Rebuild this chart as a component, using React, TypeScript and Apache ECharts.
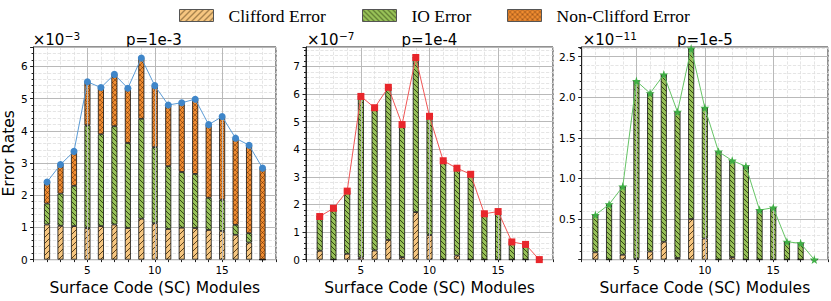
import React, { useEffect, useRef } from "react";
import * as echarts from "echarts";

// ---- data (values in units of the axis multiplier shown at the top-left of each panel) ----
const axisCategories = ["1", "2", "3", "4", "5", "6", "7", "8", "9", "10", "11", "12", "13", "14", "15", "16", "17", "18", "19"];
const modules = [2, 3, 4, 5, 6, 7, 8, 9, 10, 11, 12, 13, 14, 15, 16, 17, 18];
const xMajorTicks = ["5", "10", "15"];

// p = 1e-3  (x 1e-3)
const cliffordP3 = [1.09, 1.05, 1.04, 0.98, 1.04, 1.09, 0.98, 1.27, 1.13, 0.95, 0.99, 0.98, 0.92, 0.89, 0.77, 0.53, 0];
const ioP3 = [0.65, 1.0, 1.25, 3.19, 2.85, 3.05, 2.64, 3.1, 2.36, 1.95, 1.73, 1.68, 1.0, 0.97, 0.31, 0.29, 0];
const nonCliffordP3 = [0.67, 0.9, 1.07, 1.35, 1.45, 1.61, 1.7, 1.89, 1.91, 1.9, 2.15, 2.32, 2.27, 2.58, 2.69, 2.73, 2.84];

// p = 1e-4  (x 1e-7)
const cliffordP4 = [0.32, 0, 0.21, 0.08, 0.33, 0.71, 0.09, 1.72, 0.89, 0, 0.15, 0, 0, 0, 0, 0, 0];
const ioP4 = [1.24, 1.86, 2.27, 5.83, 5.17, 5.53, 4.8, 5.6, 4.3, 3.58, 3.16, 3.09, 1.66, 1.74, 0.64, 0.55, 0];
const nonCliffordP4 = [0, 0, 0, 0, 0, 0, 0, 0, 0, 0, 0, 0, 0, 0, 0, 0, 0];

// p = 1e-5  (x 1e-11)
const cliffordP5 = [0.09, 0, 0.06, 0.01, 0.1, 0.22, 0.02, 0.5, 0.26, 0, 0.03, 0, 0, 0, 0, 0, 0];
const ioP5 = [0.46, 0.68, 0.84, 2.19, 1.95, 2.06, 1.8, 2.1, 1.61, 1.33, 1.19, 1.15, 0.61, 0.64, 0.22, 0.2, 0];
const nonCliffordP5 = [0, 0, 0, 0, 0, 0, 0, 0, 0, 0, 0, 0, 0, 0, 0, 0, 0];

const titles = ["p=1e-3", "p=1e-4", "p=1e-5"];
const exponents = ["−3", "−7", "−11"];
const seriesNames = ["Clifford Error", "IO Error", "Non-Clifford Error"];

const STAR =
  "path://M50,0 L61.2,34.5 L97.6,34.5 L68.2,55.9 L79.4,90.5 L50,69.1 L20.6,90.5 L31.8,55.9 L2.4,34.5 L38.8,34.5 Z";

function makePattern(bg: string, dirs: string[], size: number, lineColor: string, lw: number) {
  const c = document.createElement("canvas");
  c.width = size;
  c.height = size;
  const ctx = c.getContext("2d")!;
  ctx.fillStyle = bg;
  ctx.fillRect(0, 0, size, size);
  ctx.strokeStyle = lineColor;
  ctx.lineWidth = lw;
  ctx.beginPath();
  for (const d of dirs) {
    for (const off of [-size, 0, size]) {
      if (d === "/") {
        ctx.moveTo(off, size);
        ctx.lineTo(off + size, 0);
      } else {
        ctx.moveTo(off, 0);
        ctx.lineTo(off + size, size);
      }
    }
  }
  ctx.stroke();
  return { image: c, repeat: "repeat", imageWidth: size, imageHeight: size } as any;
}

// align a per-module array with the axis categories ('-' where there is no module)
function onAxis(arr: number[]) {
  return axisCategories.map((c) => {
    const j = modules.indexOf(Number(c));
    return j < 0 ? "-" : arr[j];
  });
}

export default function App() {
  const ref = useRef<HTMLDivElement>(null);

  useEffect(() => {
    if (!ref.current) return;
    const chart = echarts.init(ref.current, undefined, { renderer: "svg" });

    const pCliff = makePattern("#f6c680", ["/"], 6, "rgba(50,30,0,0.8)", 1);
    const pIO = makePattern("#97c157", ["\\"], 5, "rgba(20,30,0,0.75)", 1);
    const pNon = makePattern("#f08c30", ["/", "\\"], 5, "rgba(70,25,0,0.55)", 0.8);
    const patterns = [pCliff, pIO, pNon];

    const panels = [
      {
        parts: [cliffordP3, ioP3, nonCliffordP3],
        ymax: 6.6, yInt: 1, yMinor: 0.2, hideZero: false, dec: 0,
        left: 31.7, width: 244.3,
        symbol: "circle", symbolSize: 7, line: "#5b9bd5", mark: "#3f86c9",
      },
      {
        parts: [cliffordP4, ioP4, nonCliffordP4],
        ymax: 7.7, yInt: 1, yMinor: 0.2, hideZero: false, dec: 0,
        left: 306, width: 247,
        symbol: "rect", symbolSize: 7, line: "#f05656", mark: "#e8262b",
      },
      {
        parts: [cliffordP5, ioP5, nonCliffordP5],
        ymax: 2.62, yInt: 0.5, yMinor: 0.1, hideZero: true, dec: 1,
        left: 581.7, width: 246.3,
        symbol: STAR, symbolSize: 9, line: "#66c466", mark: "#3fae45",
      },
    ];

    const top = 47;
    const height = 219.7;
    const font = "DejaVu Sans";

    const grid: any[] = [];
    const xAxis: any[] = [];
    const yAxis: any[] = [];
    const series: any[] = [];
    const graphic: any[] = [];

    panels.forEach((p, i) => {
      grid.push({
        left: p.left, top, width: p.width, height,
        show: true, borderColor: "#222", borderWidth: 1, backgroundColor: "transparent",
      });
      xAxis.push({
        type: "category", gridIndex: i, data: axisCategories, boundaryGap: false,
        axisLine: { show: true, onZero: false, lineStyle: { color: "#222", width: 1 } },
        axisTick: { show: true, interval: 0, length: 2.5, lineStyle: { color: "#222" } },
        axisLabel: {
          color: "#000", fontSize: 10.5, fontFamily: font, margin: 4.5,
          interval: (_idx: number, v: string) => xMajorTicks.includes(v),
        },
        splitLine: { show: true, interval: 0, lineStyle: { color: "#dedede", type: "dashed", width: 0.8 } },
        name: "Surface Code (SC) Modules", nameLocation: "middle", nameGap: 16,
        nameTextStyle: { color: "#000", fontSize: 15.5, fontFamily: font },
      });
      const mult = (v: number, s: number) => Math.abs(v / s - Math.round(v / s)) < 1e-6;
      yAxis.push({
        type: "value", gridIndex: i, min: 0, max: p.ymax, interval: p.yInt, z: 1,
        axisLine: { show: true, lineStyle: { color: "#222", width: 1 } },
        axisTick: { show: true, length: 3.5, lineStyle: { color: "#222" } },
        axisLabel: {
          color: "#000", fontSize: 10.5, fontFamily: font, margin: 6,
          formatter: (v: number) => {
            if (!mult(v, p.yInt)) return "";
            if (p.hideZero && v === 0) return "";
            return v.toFixed(p.dec);
          },
        },
        splitLine: { show: true, lineStyle: { color: "#b9b9b9", width: 1 } },
        ...(i === 0
          ? {
              name: "Error Rates", nameLocation: "middle", nameGap: 15,
              nameTextStyle: { color: "#000", fontSize: 15.5, fontFamily: font },
            }
          : {}),
      });
      yAxis.push({
        type: "value", gridIndex: i, min: 0, max: p.ymax, interval: p.yMinor, z: 0,
        position: "left",
        axisLine: { show: false },
        axisTick: { show: true, length: 2, lineStyle: { color: "#222" } },
        axisLabel: { show: false },
        splitLine: { show: true, lineStyle: { color: "#dedede", type: "dashed", width: 0.8 } },
      });

      // major vertical grid lines at the labelled ticks
      series.push({
        type: "line", name: "grid" + i, xAxisIndex: i, yAxisIndex: 2 * i, data: [], z: 1, silent: true,
        markLine: {
          silent: true, symbol: ["none", "none"], label: { show: false },
          lineStyle: { color: "#b9b9b9", type: "solid", width: 1 },
          emphasis: { disabled: true },
          data: xMajorTicks.map((v) => ({ xAxis: v })),
        },
      });

      p.parts.forEach((arr, k) => {
        series.push({
          type: "bar", name: seriesNames[k], xAxisIndex: i, yAxisIndex: 2 * i,
          stack: "s" + i, barWidth: 6, z: 2,
          itemStyle: { color: patterns[k], borderColor: "#111", borderWidth: 0.8 },
          data: onAxis(arr),
        });
      });

      const totals = modules.map(
        (_m, j) => Math.round((p.parts[0][j] + p.parts[1][j] + p.parts[2][j]) * 1000) / 1000
      );
      series.push({
        type: "line", name: "Total " + titles[i], xAxisIndex: i, yAxisIndex: 2 * i, z: 5,
        symbol: p.symbol, symbolSize: p.symbolSize, showAllSymbol: true,
        lineStyle: { color: p.line, width: 1 },
        itemStyle: { color: p.mark },
        data: onAxis(totals),
      });

      const cx = p.left + p.width / 2;
      graphic.push({
        type: "text", x: cx, y: 40,
        style: {
          text: titles[i], fontSize: 15, fontFamily: font, fill: "#000",
          align: "center", verticalAlign: "middle", textAlign: "center", textVerticalAlign: "middle",
        },
      });
      // axis multiplier "×10^n"
      graphic.push({
        type: "text", x: p.left + 1, y: 40,
        style: {
          text: "×10", font: "15px 'DejaVu Sans'", fontSize: 15, fontFamily: font, fill: "#000",
          align: "left", verticalAlign: "middle", textAlign: "left", textVerticalAlign: "middle",
        },
      });
      graphic.push({
        type: "text", x: p.left + 33, y: 35.5,
        style: {
          text: exponents[i], font: "10.5px 'DejaVu Sans'", fontSize: 10.5, fontFamily: font, fill: "#000",
          align: "left", verticalAlign: "middle", textAlign: "left", textVerticalAlign: "middle",
        },
      });
    });

    const legendCommon = {
      padding: 0, itemWidth: 34, itemHeight: 12, icon: "rect", selectedMode: false,
      top: 6.5,
      itemStyle: { borderColor: "#555", borderWidth: 1 },
      textStyle: { fontFamily: "Liberation Serif", fontSize: 17.5, color: "#000", padding: [0, 0, 0, 10] },
    };

    chart.setOption({
      animation: false,
      backgroundColor: "#fff",
      textStyle: { fontFamily: font },
      legend: [
        { ...legendCommon, left: 179, data: [seriesNames[0]] },
        { ...legendCommon, left: 362, data: [seriesNames[1]] },
        { ...legendCommon, left: 507, data: [seriesNames[2]] },
      ],
      grid, xAxis, yAxis, series, graphic,
    });

    return () => chart.dispose();
  }, []);

  return (
    <div
      ref={ref}
      style={{ position: "absolute", left: 0, top: 0, width: 831, height: 301 }}
    />
  );
}
